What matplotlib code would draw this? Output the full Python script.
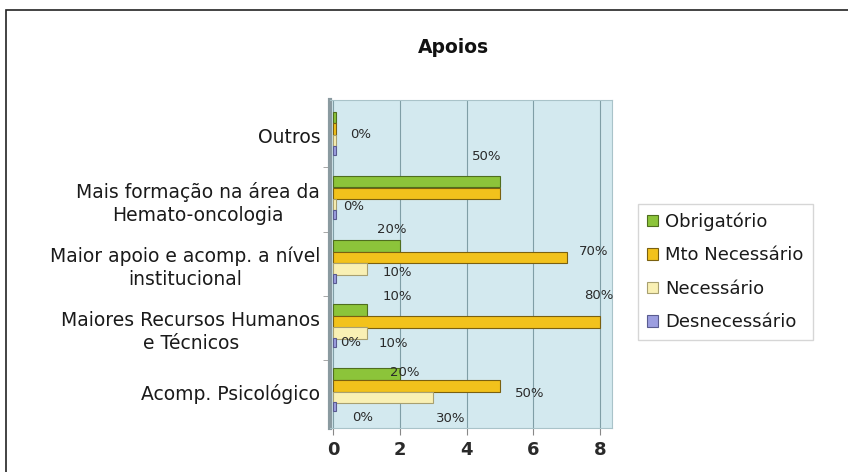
import matplotlib
matplotlib.use('Agg')
import numpy as np
import matplotlib.pyplot as plt
from matplotlib.patches import Rectangle

plt.rcParams['font.family'] = ['DejaVu Sans']

# ================================
# Data (counts out of 10 respondents)
# ================================
categories = ["Acomp. Psicológico",
              "Maiores Recursos Humanos\ne Técnicos",
              "Maior apoio e acomp. a nível\ninstitucional",
              "Mais formação na área da\nHemato-oncologia",
              "Outros"]
series = ["Obrigatório", "Mto Necessário", "Necessário", "Desnecessário"]
obrigatorio = [2, 1, 2, 5, 0]
mto_necessario = [5, 8, 7, 5, 0]
necessario = [3, 1, 1, 0, 0]
desnecessario = [0, 0, 0, 0, 0]
total = 10
xticks = [0, 2, 4, 6, 8]

values = [obrigatorio, mto_necessario, necessario, desnecessario]
colors = ["#8cc43a", "#f2c21c", "#f9f0b4", "#9c9ee0"]
edges = ["#4f6e1e", "#7a6010", "#a8a070", "#5a5c90"]

# which labels are visible, with offset in pixels from bar end
label_offsets = {
    (0, 0): (5, 2), (0, 1): (30, -7), (0, 2): (17, -21), (0, 3): (29, -11),
    (1, 0): (31, 13), (1, 1): (-1, 26), (1, 2): (27, -10), (1, 3): (17, 0),
    (2, 0): (-8, 16), (2, 1): (27, 6), (2, 2): (31, -4),
    (3, 0): (-13, 25), (3, 2): (20, -2),
    (4, 2): (27, 6),
}

fig = plt.figure(figsize=(8.48, 4.72), dpi=100)
ax = fig.add_axes([0.389, 0.093, 0.3325, 0.695])
ax.set_facecolor("#d3e9ef")

y = np.arange(len(categories))
h = 0.18
shift = [0.28, 0.095, -0.08, -0.23]

for i, vals in enumerate(values):
    widths = [max(v, 0.07) for v in vals]
    ax.barh(y + shift[i], widths, height=h if i < 3 else 0.14, color=colors[i],
            edgecolor=edges[i], linewidth=0.8, label=series[i], zorder=3)
    for j, v in enumerate(vals):
        if (j, i) in label_offsets:
            dx, dy = label_offsets[(j, i)]
            ax.annotate(f"{v * 100 // total}%", (v, y[j] + shift[i]),
                        xytext=(dx, dy), textcoords="offset pixels",
                        ha="center", va="center", fontsize=9.5, color="#2a2a2a",
                        zorder=4)

ax.set_xlim(-0.1, 8.35)
ax.set_ylim(-0.56, 4.55)
ax.set_xticks(xticks)
ax.set_xticklabels([str(t) for t in xticks], fontsize=13, color="#2a2a2a",
                   fontweight="bold")
ax.set_yticks(y)
ax.set_yticklabels(categories, fontsize=13.5, color="#1a1a1a",
                   multialignment="center", linespacing=1.25)
ax.set_yticks(y[:-1] + 0.5, minor=True)
ax.tick_params(axis="y", which="major", length=0, pad=7)
ax.tick_params(axis="y", which="minor", length=5, color="#999999")
ax.tick_params(axis="x", length=5, color="#888888", pad=4)
ax.grid(axis="x", color="#7f9ea6", linewidth=0.8, zorder=1)
for s in ["top", "right", "bottom"]:
    ax.spines[s].set_color("#a9c3c9")
ax.spines["left"].set_color("#8a9aa0")
ax.spines["left"].set_linewidth(3)

fig.text(0.535, 0.9, "Apoios", ha="center", va="center", fontsize=13.5,
         fontweight="bold", color="#111111")

leg = fig.legend(loc="center left", bbox_to_anchor=(0.742, 0.424), fontsize=13,
                 frameon=True, fancybox=False, edgecolor="#cccccc",
                 handlelength=0.6, handleheight=0.6, handletextpad=0.4,
                 labelspacing=0.85, borderpad=0.5)
for t in leg.get_texts():
    t.set_color("#1a1a1a")

# outer frame
fig.patches.append(Rectangle((6 / 848, -0.1), 1.0, 1 - 10 / 472 + 0.1,
                             transform=fig.transFigure, fill=False,
                             edgecolor="#222222", linewidth=1.2))

fig.savefig("out.png", dpi=100)
